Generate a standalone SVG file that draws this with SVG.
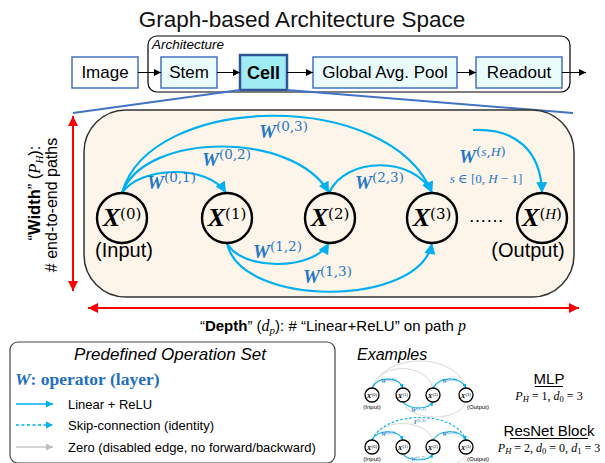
<svg xmlns="http://www.w3.org/2000/svg" width="605" height="463" viewBox="0 0 605 463">
<style>
.sans{font-family:"Liberation Sans",Arial,sans-serif;}
.mi{font-family:"Liberation Serif","DejaVu Serif",serif;font-style:italic;}
.sup{font-family:"DejaVu Serif","Liberation Serif",serif;font-style:normal;font-weight:normal;}
.xb{font-family:"Liberation Serif",serif;font-style:italic;font-weight:bold;}
.box{fill:#EBFCFD;stroke:#4472C4;stroke-width:1.5;}
.pipe{stroke:#000;stroke-width:1;fill:none;marker-end:url(#ahk);}
.edge{stroke:#00B0F0;stroke-width:2.2;fill:none;marker-end:url(#ahb);}
.node{fill:none;stroke:#000;stroke-width:2.4;}
.wl{fill:#1F78C8;}
.me{stroke:#00B0F0;stroke-width:1.1;fill:none;marker-end:url(#ahs);}
.mg{stroke:#D9D9D9;stroke-width:1;fill:none;}
.mn{fill:#fff;stroke:#000;stroke-width:1.3;}
.red{stroke:#FF0000;stroke-width:2;fill:none;marker-start:url(#ahr);marker-end:url(#ahr);}
</style>
<defs>
<marker id="ahk" viewBox="0 0 10 10" refX="10" refY="5" markerWidth="7" markerHeight="7" markerUnits="userSpaceOnUse" orient="auto"><path d="M0,0 L10,5 L0,10 z" fill="#000"/></marker>
<marker id="ahb" viewBox="0 0 10 10" refX="10" refY="5" markerWidth="12" markerHeight="11" markerUnits="userSpaceOnUse" orient="auto"><path d="M0,0 L10,5 L0,10 z" fill="#00B0F0"/></marker>
<marker id="ahs" viewBox="0 0 10 10" refX="10" refY="5" markerWidth="4" markerHeight="4" markerUnits="userSpaceOnUse" orient="auto"><path d="M0,0 L10,5 L0,10 z" fill="#00B0F0"/></marker>
<marker id="ahl" viewBox="0 0 10 10" refX="10" refY="5" markerWidth="7" markerHeight="7" markerUnits="userSpaceOnUse" orient="auto"><path d="M0,0 L10,5 L0,10 z" fill="#00B0F0"/></marker>
<marker id="ahg" viewBox="0 0 10 10" refX="10" refY="5" markerWidth="7" markerHeight="7" markerUnits="userSpaceOnUse" orient="auto"><path d="M0,0 L10,5 L0,10 z" fill="#BFBFBF"/></marker>
<marker id="ahr" viewBox="0 0 10 10" refX="10" refY="5" markerWidth="11" markerHeight="10" markerUnits="userSpaceOnUse" orient="auto-start-reverse"><path d="M0,0 L10,5 L0,10 z" fill="#FF0000"/></marker>
</defs>
<rect width="605" height="463" fill="#fff"/>

<text class="sans" x="302" y="27" font-size="22.5" text-anchor="middle" fill="#111">Graph-based Architecture Space</text>

<g id="architecture">
<rect x="148" y="36" width="422" height="56" rx="9" fill="none" stroke="#000" stroke-width="1.2"/>
<text class="sans" x="152" y="49" font-size="13.5" font-style="italic">Architecture</text>
</g>
<g id="image"><rect x="72" y="57" width="66" height="31" fill="#fff" stroke="#4472C4" stroke-width="1.5"/><text class="sans" x="105" y="78" font-size="17" text-anchor="middle">Image</text></g>
<g id="stem"><rect class="box" x="161" y="57" width="56" height="31"/><text class="sans" x="189" y="78" font-size="17" text-anchor="middle">Stem</text></g>
<g id="cell"><rect x="240" y="55" width="47" height="35" fill="#A0ECF4" stroke="#2F5597" stroke-width="2.5"/><text class="sans" x="263.5" y="79" font-size="18" font-weight="bold" text-anchor="middle">Cell</text></g>
<g id="gap"><rect class="box" x="313" y="57" width="144" height="31"/><text class="sans" x="385" y="78" font-size="17" text-anchor="middle">Global Avg. Pool</text></g>
<g id="readout"><rect class="box" x="476" y="57" width="86" height="31"/><text class="sans" x="519" y="78" font-size="17" text-anchor="middle">Readout</text></g>

<g id="pipeline-connectors">
<line class="pipe" x1="138" y1="72.5" x2="161" y2="72.5"/>
<line class="pipe" x1="217" y1="72.5" x2="240" y2="72.5"/>
<line class="pipe" x1="287" y1="72.5" x2="313" y2="72.5"/>
<line class="pipe" x1="457" y1="72.5" x2="476" y2="72.5"/>
<line class="pipe" x1="562" y1="72.5" x2="586" y2="72.5"/>
<line x1="240" y1="90" x2="73" y2="113" stroke="#4472C4" stroke-width="2"/>
<line x1="287" y1="90" x2="573" y2="113" stroke="#4472C4" stroke-width="2"/>
</g>

<g id="cell-space">
<rect x="84" y="110" width="490" height="187" rx="42" fill="#FDF4EA" stroke="#333" stroke-width="1.5"/>
</g>

<g id="connectors">
<path class="edge" d="M122,193 C140,166 208,164 226,193"/>
<path class="edge" d="M122,193 C145,131 295,131 329,193"/>
<path class="edge" d="M122,193 C150,92 390,88 432,193"/>
<path class="edge" d="M329,193 C345,156 415,156 432,193"/>
<path class="edge" d="M227,243 C240,270 312,272 329,243"/>
<path class="edge" d="M227,243 C240,308 420,308 432,243"/>
<path class="edge" d="M473,130 C515,128 541,150 542,193"/>
</g>

<g id="edge-labels" class="wl">
<text x="147" y="189" font-size="19"><tspan class="xb">W</tspan><tspan class="sup" font-size="13.5" dy="-7">(0,1)</tspan></text>
<text x="202" y="166" font-size="19"><tspan class="xb">W</tspan><tspan class="sup" font-size="13.5" dy="-7">(0,2)</tspan></text>
<text x="259" y="138" font-size="19"><tspan class="xb">W</tspan><tspan class="sup" font-size="13.5" dy="-7">(0,3)</tspan></text>
<text x="253" y="258" font-size="19"><tspan class="xb">W</tspan><tspan class="sup" font-size="13.5" dy="-7">(1,2)</tspan></text>
<text x="303" y="283" font-size="19"><tspan class="xb">W</tspan><tspan class="sup" font-size="13.5" dy="-7">(1,3)</tspan></text>
<text x="355" y="189" font-size="19"><tspan class="xb">W</tspan><tspan class="sup" font-size="13.5" dy="-7">(2,3)</tspan></text>
<text x="459" y="163" font-size="19"><tspan class="xb">W</tspan><tspan class="sup" font-size="13.5" dy="-7">(</tspan><tspan class="mi" font-size="13.5">s</tspan><tspan class="sup" font-size="13.5">,</tspan><tspan class="mi" font-size="13.5">H</tspan><tspan class="sup" font-size="13.5">)</tspan></text>
<text x="486" y="183" font-size="13" text-anchor="middle" font-family="Liberation Serif,DejaVu Serif,serif"><tspan class="mi">s</tspan> ∈ [0, <tspan class="mi">H</tspan> − 1]</text>
</g>

<g id="x0"><circle class="node" cx="122" cy="218" r="25"/><text x="122" y="226" text-anchor="middle" font-size="26"><tspan class="xb">X</tspan><tspan class="sup" font-size="15" dy="-7">(0)</tspan></text><text class="sans" x="124" y="257" font-size="20" text-anchor="middle">(Input)</text></g>
<g id="x1"><circle class="node" cx="227" cy="218" r="25"/><text x="227" y="226" text-anchor="middle" font-size="26"><tspan class="xb">X</tspan><tspan class="sup" font-size="15" dy="-7">(1)</tspan></text></g>
<g id="x2"><circle class="node" cx="330" cy="218" r="25"/><text x="330" y="226" text-anchor="middle" font-size="26"><tspan class="xb">X</tspan><tspan class="sup" font-size="15" dy="-7">(2)</tspan></text></g>
<g id="x3"><circle class="node" cx="432" cy="218" r="25"/><text x="432" y="226" text-anchor="middle" font-size="26"><tspan class="xb">X</tspan><tspan class="sup" font-size="15" dy="-7">(3)</tspan></text></g>
<text class="sans" x="486" y="222" font-size="18" text-anchor="middle" letter-spacing="-0.5">……</text>
<g id="xH"><circle class="node" cx="542" cy="218" r="25"/><text x="542" y="226" text-anchor="middle" font-size="26"><tspan class="xb">X</tspan><tspan class="sup" font-size="15" dy="-7">(</tspan><tspan class="mi" font-size="15">H</tspan><tspan class="sup" font-size="15">)</tspan></text><text class="sans" x="528" y="257" font-size="20" text-anchor="middle">(Output)</text></g>

<g id="width-axis">
<line class="red" x1="73" y1="116" x2="73" y2="291"/>
<text class="sans" transform="translate(40,193) rotate(-90)" font-size="16.5" text-anchor="middle">“<tspan font-weight="bold">Width</tspan>” (<tspan class="mi">P</tspan><tspan class="mi" font-size="11" dy="3">H</tspan><tspan dy="-3">):</tspan></text>
<text class="sans" transform="translate(57,205) rotate(-90)" font-size="16" text-anchor="middle"># end-to-end paths</text>
</g>

<g id="depth-axis">
<line class="red" x1="88" y1="308" x2="579" y2="308"/>
<text class="sans" x="333" y="331" font-size="15" text-anchor="middle">“<tspan font-weight="bold">Depth</tspan>” (<tspan class="mi" font-size="16">d</tspan><tspan class="mi" font-size="11" dy="3">p</tspan><tspan dy="-3">): # “Linear+ReLU” on path </tspan><tspan class="mi" font-size="16">p</tspan></text>
</g>

<g id="legend">
<rect x="10" y="342" width="325" height="121" rx="8" fill="#fff" stroke="#444" stroke-width="1.2"/>
<text class="sans" x="170" y="360" font-size="17" font-style="italic" text-anchor="middle">Predefined Operation Set</text>
<text x="15" y="385" font-size="17.5" font-family="Liberation Serif,serif" font-weight="bold" fill="#1F6FC5"><tspan font-style="italic">W</tspan>: operator (layer)</text>
<line x1="16" y1="404" x2="53" y2="404" stroke="#00B0F0" stroke-width="1.3" marker-end="url(#ahl)"/>
<text class="sans" x="68" y="408.5" font-size="13">Linear + ReLU</text>
<line x1="16" y1="425" x2="53" y2="425" stroke="#00B0F0" stroke-width="1.3" stroke-dasharray="3,2.5" marker-end="url(#ahl)"/>
<text class="sans" x="68" y="429.5" font-size="13">Skip-connection (identity)</text>
<line x1="16" y1="447" x2="53" y2="447" stroke="#C8C8C8" stroke-width="1.3" marker-end="url(#ahg)"/>
<text class="sans" x="68" y="451.5" font-size="13">Zero (disabled edge, no forward/backward)</text>
</g>

<g id="examples">
<text class="sans" x="357" y="360" font-size="16" font-style="italic">Examples</text>
</g>

<g id="mlp-example">
<path class="mg" d="M372,388 C380,362 425,362 433,388"/>
<path class="mg" d="M372,388 C385,352 455,352 466,388"/>
<path class="mg" d="M403,402 C410,422 460,422 466,402"/>
<path class="me" d="M372,388 C378,376 398,376 403,388"/>
<path class="me" d="M403,402 C410,410 428,410 433,402"/>
<path class="me" d="M433,388 C440,376 460,376 466,388"/>
<text x="381" y="383" font-size="6" class="wl"><tspan class="xb">W</tspan><tspan class="sup" font-size="4" dy="-2">(0,1)</tspan></text>
<text x="411" y="412" font-size="6" class="wl"><tspan class="xb">W</tspan><tspan class="sup" font-size="4" dy="-2">(1,2)</tspan></text>
<text x="442" y="383" font-size="6" class="wl"><tspan class="xb">W</tspan><tspan class="sup" font-size="4" dy="-2">(2,3)</tspan></text>
<circle class="mn" cx="372" cy="395" r="7"/><circle class="mn" cx="403" cy="395" r="7"/><circle class="mn" cx="433" cy="395" r="7"/><circle class="mn" cx="466" cy="395" r="7"/>
<text x="372" y="397.5" font-size="7" text-anchor="middle"><tspan class="xb">X</tspan><tspan class="sup" font-size="4" dy="-2">(0)</tspan></text>
<text x="403" y="397.5" font-size="7" text-anchor="middle"><tspan class="xb">X</tspan><tspan class="sup" font-size="4" dy="-2">(1)</tspan></text>
<text x="433" y="397.5" font-size="7" text-anchor="middle"><tspan class="xb">X</tspan><tspan class="sup" font-size="4" dy="-2">(2)</tspan></text>
<text x="466" y="397.5" font-size="7" text-anchor="middle"><tspan class="xb">X</tspan><tspan class="sup" font-size="4" dy="-2">(3)</tspan></text>
<text class="sans" x="372" y="409" font-size="6" text-anchor="middle">(Input)</text>
<text class="sans" x="478" y="409" font-size="6" text-anchor="middle">(Output)</text>
<text class="sans" x="549" y="384" font-size="15" text-anchor="middle">MLP</text>
<line x1="535" y1="386.5" x2="563" y2="386.5" stroke="#000" stroke-width="1"/>
<text class="mi" x="549" y="399.5" font-size="12" text-anchor="middle">P<tspan font-size="8.5" dy="2">H</tspan><tspan font-style="normal" dy="-2"> = 1, </tspan>d<tspan font-size="8.5" dy="2" font-style="normal">0</tspan><tspan font-style="normal" dy="-2"> = 3</tspan></text>
</g>

<g id="resnet-example">
<path class="mg" d="M372,440 C380,418 425,418 433,440"/>
<path class="mg" d="M403,454 C410,472 460,472 466,454"/>
<path d="M372,440 C385,410 455,410 466,440" fill="none" stroke="#00B0F0" stroke-width="1.1" stroke-dasharray="2.5,2" marker-end="url(#ahs)"/>
<path class="me" d="M372,440 C378,429 398,429 403,440"/>
<path class="me" d="M403,454 C410,462 428,462 433,454"/>
<path class="me" d="M433,440 C440,429 460,429 466,440"/>
<text x="414" y="424" font-size="6" class="wl"><tspan class="mi" font-weight="bold">I</tspan><tspan class="sup" font-size="4" dy="-2">(0,3)</tspan></text>
<text x="381" y="436" font-size="6" class="wl"><tspan class="xb">W</tspan><tspan class="sup" font-size="4" dy="-2">(0,1)</tspan></text>
<text x="411" y="461" font-size="5.5" class="wl"><tspan class="xb">W</tspan><tspan class="sup" font-size="4" dy="-2">(1,2)</tspan></text>
<text x="442" y="436" font-size="6" class="wl"><tspan class="xb">W</tspan><tspan class="sup" font-size="4" dy="-2">(2,3)</tspan></text>
<circle class="mn" cx="372" cy="447" r="7"/><circle class="mn" cx="403" cy="447" r="7"/><circle class="mn" cx="433" cy="447" r="7"/><circle class="mn" cx="466" cy="447" r="7"/>
<text x="372" y="449.5" font-size="7" text-anchor="middle"><tspan class="xb">X</tspan><tspan class="sup" font-size="4" dy="-2">(0)</tspan></text>
<text x="403" y="449.5" font-size="7" text-anchor="middle"><tspan class="xb">X</tspan><tspan class="sup" font-size="4" dy="-2">(1)</tspan></text>
<text x="433" y="449.5" font-size="7" text-anchor="middle"><tspan class="xb">X</tspan><tspan class="sup" font-size="4" dy="-2">(2)</tspan></text>
<text x="466" y="449.5" font-size="7" text-anchor="middle"><tspan class="xb">X</tspan><tspan class="sup" font-size="4" dy="-2">(3)</tspan></text>
<text class="sans" x="372" y="461" font-size="6" text-anchor="middle">(Input)</text>
<text class="sans" x="478" y="461" font-size="6" text-anchor="middle">(Output)</text>
<text class="sans" x="549" y="436" font-size="15" text-anchor="middle">ResNet Block</text>
<line x1="510" y1="438.5" x2="588" y2="438.5" stroke="#000" stroke-width="1"/>
<text class="mi" x="549" y="452" font-size="12" text-anchor="middle">P<tspan font-size="8.5" dy="2">H</tspan><tspan font-style="normal" dy="-2"> = 2, </tspan>d<tspan font-size="8.5" dy="2" font-style="normal">0</tspan><tspan font-style="normal" dy="-2"> = 0, </tspan>d<tspan font-size="8.5" dy="2" font-style="normal">1</tspan><tspan font-style="normal" dy="-2"> = 3</tspan></text>
</g>
</svg>
